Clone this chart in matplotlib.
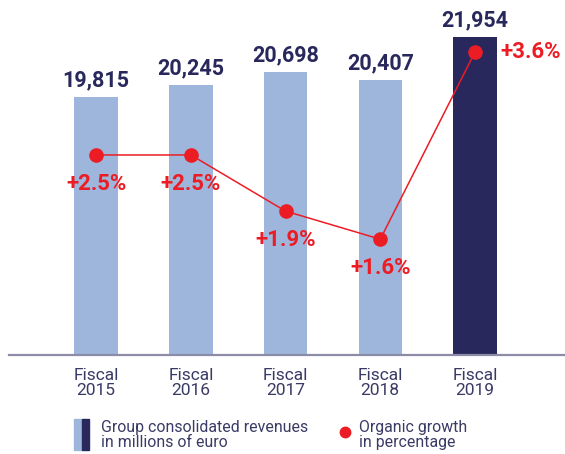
import matplotlib.pyplot as plt
from matplotlib.patches import Rectangle
from matplotlib.lines import Line2D

years = ["2015", "2016", "2017", "2018", "2019"]
revenues = [19815, 20245, 20698, 20407, 21954]
growth = [2.5, 2.5, 1.9, 1.6, 3.6]

NAVY = "#29285c"
LIGHT = "#9fb6dc"
RED = "#ec1c24"
TEXT = "#3a3a66"

plt.rcParams["font.family"] = ["Roboto", "DejaVu Sans"]

fig = plt.figure(figsize=(5.65, 4.54), dpi=100)
ax = fig.add_axes([9 / 565, (454 - 355) / 454, 1 - 9 / 565, 335 / 454])

x = list(range(len(years)))
colors = [LIGHT] * (len(years) - 1) + [NAVY]
ax.bar(x, revenues, width=0.46, color=colors, zorder=1)

ax.set_xlim(-0.92, 4.95)
ax.set_ylim(10617, 22560)

for xi, v in zip(x, revenues):
    ax.annotate(f"{v:,}", (xi, v), xytext=(0, 4), textcoords="offset points",
                ha="center", va="bottom", fontsize=15.5, fontweight="bold",
                color=NAVY)

for s in ["top", "right", "left"]:
    ax.spines[s].set_visible(False)
ax.spines["bottom"].set_color("#8c8ca8")
ax.spines["bottom"].set_linewidth(1.6)
ax.set_yticks([])
ax.set_xticks(x)
ax.set_xticklabels([f"Fiscal\n{y}" for y in years], fontsize=12.5, color=TEXT,
                   linespacing=1.05)
ax.tick_params(axis="x", length=0, pad=9)

ax2 = ax.twinx()
ax2.set_ylim(0.363, 3.942)
ax2.axis("off")
ax2.plot(x, growth, color=RED, lw=1.1, marker="o", markersize=9.5, zorder=3)

for xi, g in zip(x, growth):
    if xi == len(x) - 1:
        ax2.annotate(f"+{g}%", (xi, g), xytext=(18, 0), textcoords="offset points",
                     ha="left", va="center", fontsize=16, fontweight="bold",
                     color=RED)
    else:
        ax2.annotate(f"+{g}%", (xi, g), xytext=(0, -21), textcoords="offset points",
                     ha="center", va="center", fontsize=16, fontweight="bold",
                     color=RED)

# legend
fig.patches.append(Rectangle((74 / 565, (454 - 450) / 454), 8 / 565, 31 / 454,
                             transform=fig.transFigure, color=LIGHT))
fig.patches.append(Rectangle((82 / 565, (454 - 450) / 454), 7 / 565, 31 / 454,
                             transform=fig.transFigure, color=NAVY))
fig.text(101 / 565, (454 - 435) / 454, "Group consolidated revenues\nin millions of euro",
         fontsize=11.4, color=TEXT, va="center", ha="left", linespacing=1.0)
fig.lines.append(Line2D([345 / 565], [(454 - 432) / 454], transform=fig.transFigure,
                        marker="o", markersize=7.5, color=RED, lw=0))
fig.text(359 / 565, (454 - 435) / 454, "Organic growth\nin percentage",
         fontsize=11.4, color=TEXT, va="center", ha="left", linespacing=1.0)

fig.savefig("out.png", dpi=100)
